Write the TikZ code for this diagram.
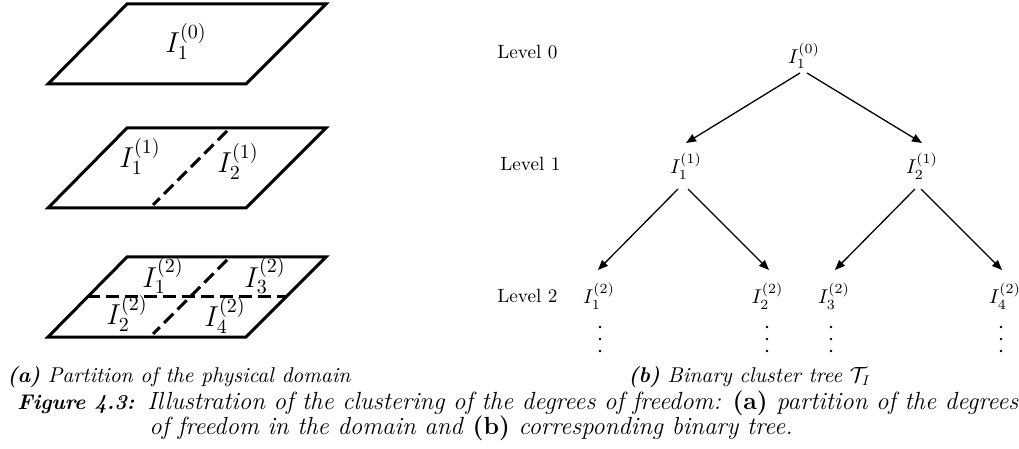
\documentclass[tikz,border=0pt]{standalone}
\usetikzlibrary{arrows.meta}
\tikzset{
  domframe/.style={line width=1.5pt, line join=miter},
  cutline/.style={line width=1.5pt, dash pattern=on 6.5pt off 3pt},
  domlab/.style={font=\fontsize{14}{17}\selectfont, inner sep=0pt, anchor=base},
  treelab/.style={font=\fontsize{10}{12}\selectfont, inner sep=0pt, anchor=base},
  levlab/.style={font=\fontsize{9.6}{11}\selectfont, inner sep=0pt, anchor=base west},
  treearrow/.style={line width=0.65pt, -{Triangle[length=5pt,width=4pt]}},
  subcap/.style={font=\fontsize{10.7}{13}\selectfont\itshape, inner sep=0pt, anchor=base west},
  figlab/.style={font=\fontsize{10.6}{13}\selectfont\bfseries\itshape, inner sep=0pt, anchor=base west},
  captext/.style={font=\fontsize{12.4}{14}\selectfont\itshape, inner sep=0pt, anchor=base west},
  dotmark/.style={fill=black, draw=none},
}
\begin{document}
\begin{tikzpicture}[x=0.5pt,y=-0.5pt]
\useasboundingbox (0,0) rectangle (1019,449);

% ---- (a) partition of the physical domain ----
\draw[domframe] (127,4) -- (326,4) -- (246,84) -- (48,84) -- cycle;
\node[domlab] (d0) at (186,53) {$I_1^{(0)}$};

\draw[domframe] (127,128) -- (326,128) -- (246,208) -- (48,208) -- cycle;
\coordinate (c1t) at (227,131);
\coordinate (c1b) at (153,205);
\draw[cutline] (c1t) -- (c1b);
\node[domlab] (d11) at (140,168) {$I_1^{(1)}$};
\node[domlab] (d12) at (238,173) {$I_2^{(1)}$};

\draw[domframe] (127,257) -- (326,257) -- (246,337) -- (48,337) -- cycle;
\coordinate (c2t) at (227,260);
\coordinate (c2b) at (153,334);
\coordinate (c2l) at (87,297);
\coordinate (c2r) at (286,297);
\draw[cutline] (c2l) -- (c2r);
\draw[cutline] (c2t) -- (c2b);
\node[domlab] (d21) at (163,287) {$I_1^{(2)}$};
\node[domlab] (d23) at (265,287) {$I_3^{(2)}$};
\node[domlab] (d22) at (127,325) {$I_2^{(2)}$};
\node[domlab] (d24) at (225,327) {$I_4^{(2)}$};

% ---- (b) binary cluster tree ----
\node[levlab] (lv0) at (497,59) {Level 0};
\node[levlab] (lv1) at (500,171) {Level 1};
\node[levlab] (lv2) at (497,302) {Level 2};

\node[treelab] (r)   at (804,63.5) {$I_1^{(0)}$};
\node[treelab] (a)   at (686,174) {$I_1^{(1)}$};
\node[treelab] (b)   at (922,174) {$I_2^{(1)}$};
\node[treelab] (a1)  at (599,304) {$I_1^{(2)}$};
\node[treelab] (a2)  at (767.5,304) {$I_2^{(2)}$};
\node[treelab] (b1)  at (834,304) {$I_3^{(2)}$};
\node[treelab] (b2)  at (1005,304) {$I_4^{(2)}$};

\draw[treearrow] ([shift={(-4,9.5)}]r.base) -- ([shift={(0,-31)}]a.base);
\draw[treearrow] ([shift={(3,9.5)}]r.base) -- ([shift={(0,-31)}]b.base);
\draw[treearrow] ([shift={(-8,15)}]a.base) -- ([shift={(-1,-34)}]a1.base);
\draw[treearrow] ([shift={(2,15)}]a.base) -- ([shift={(1.5,-34)}]a2.base);
\draw[treearrow] ([shift={(-7,15)}]b.base) -- ([shift={(1,-34)}]b1.base);
\draw[treearrow] ([shift={(-1,15)}]b.base) -- ([shift={(-3,-34)}]b2.base);

% vertical ellipses below the leaves
\foreach \n/\x in {a1/600, a2/767, b1/831, b2/1001}{
  \coordinate (\n-dots) at (\x,339);
  \foreach \dy in {-12,0,12}
    \fill[dotmark] ([yshift=-\dy*0.5pt]\n-dots) circle (1.3);
}

% ---- captions ----
\node[subcap] (ca) at (7,382) {\textbf{(a)} Partition of the physical domain};
\node[subcap] (cb) at (628,382) {\textbf{(b)} Binary cluster tree $\mathcal{T}_I$};
\node[figlab] (fl) at (17,409) {Figure 4.3:};
\node[captext] (f1) at (147,409) {Illustration of the clustering of the degrees of freedom: \textup{\textbf{(a)}} partition of the degrees};
\node[captext] (f2) at (149,434) {of freedom in the domain and \textup{\textbf{(b)}} corresponding binary tree.};
\end{tikzpicture}
\end{document}
